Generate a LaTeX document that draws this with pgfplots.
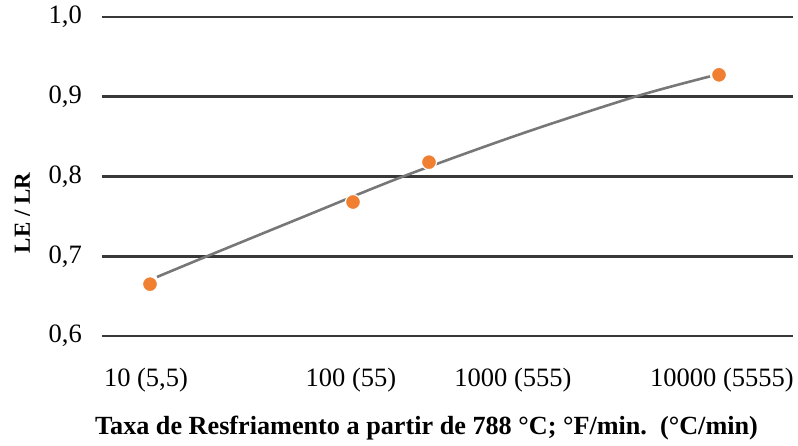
\documentclass[border=0pt]{standalone}
\usepackage{pgfplots}
\pgfplotsset{compat=1.18}
\usepackage{fontspec}
\setmainfont{Liberation Serif}

\definecolor{gridgray}{HTML}{383838}
\definecolor{trendgray}{HTML}{777777}
\definecolor{markorange}{HTML}{F07F32}

\begin{document}
\begin{tikzpicture}[x=1pt,y=1pt]
\useasboundingbox (-102,-110) rectangle (696,336);
\begin{axis}[
  scale only axis,
  width=691pt, height=319pt,
  xmin=102, xmax=793,
  ymin=0.6, ymax=1.0,
  axis line style={draw=none},
  major tick length=0pt,
  ytick={0.6,0.7,0.8,0.9,1.0},
  ymajorgrids,
  grid style={gridgray, line width=2.8pt},
  xtick={146,351,513,722},
  xticklabels={{10 (5,5)}, {100 (55)}, {1000 (555)}, {10000 (5555)}},
  xticklabel style={anchor=center, yshift=-44pt, font=\fontsize{26.5}{30}\selectfont},
  yticklabel style={anchor=east, inner sep=0pt, xshift=-20pt, font=\fontsize{26.5}{30}\selectfont},
  /pgf/number format/assume math mode=true,
  /pgf/number format/use comma,
  /pgf/number format/fixed,
  /pgf/number format/fixed zerofill,
  /pgf/number format/precision=1,
  xlabel={Taxa de Resfriamento a partir de 788 °C; °F/min.\ \ (°C/min)},
  xlabel style={at={(rel axis cs:0.4696,0)}, anchor=center, yshift=-92pt,
    font=\bfseries\fontsize{26.2}{30}\selectfont},
  ylabel={LE / LR},
  ylabel style={at={(axis description cs:-0.115,0.386)}, anchor=center,
    font=\bfseries\fontsize{23}{27}\selectfont},
  clip=false,
]
% fitted trend
\addplot[trendgray, line width=2.6pt, smooth] coordinates {
  (157,0.674) (207,0.700) (300,0.7477) (403,0.800) (520,0.853) (635,0.900) (710,0.9255)
};
% measured ratios
\addplot[only marks, mark=*, mark size=7.5pt,
  mark options={fill=markorange, draw=white, line width=1.2pt}] coordinates {
  (150,0.665) (353,0.768) (429,0.818) (719,0.9275)
};
\end{axis}
\end{tikzpicture}
\end{document}
